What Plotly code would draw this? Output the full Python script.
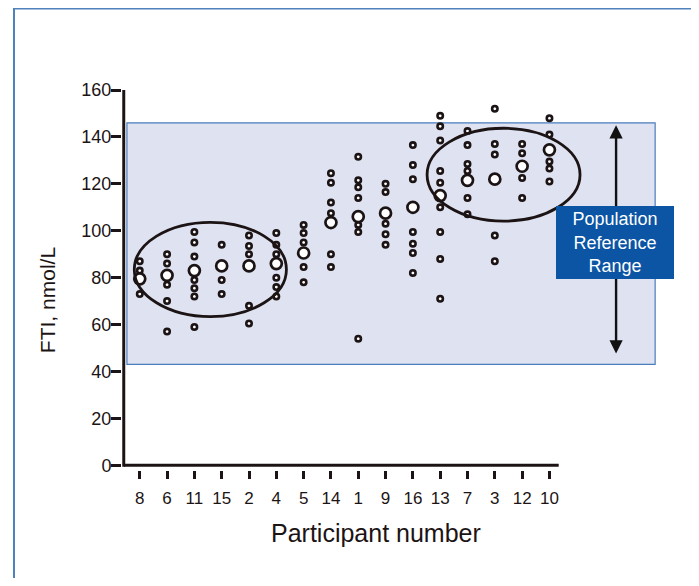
import plotly.graph_objects as go

# ---- data ----
participants = ["8", "6", "11", "15", "2", "4", "5", "14", "1", "9", "16", "13", "7", "3", "12", "10"]

individual_values = [
    [87, 83, 79, 73],                                   # 8
    [90, 86, 77, 70, 57],                               # 6
    [99.5, 95, 89, 79, 75.5, 72, 59],                   # 11
    [94, 79, 73],                                       # 15
    [98, 93.5, 90, 68, 60.5],                           # 2
    [99, 94, 90, 80, 76, 72],                           # 4
    [102.5, 99, 95, 84.5, 78],                          # 5
    [124.5, 120.5, 112, 107.5, 90, 84.5],               # 14
    [131.5, 121.5, 118.5, 114, 102.5, 99.5, 54],        # 1
    [120, 116.5, 103, 98.5, 94],                        # 9
    [136.5, 128, 122, 99.5, 94.5, 90.5, 82],            # 16
    [149, 144.5, 138.5, 125.5, 120.5, 110, 99.5, 88, 71],  # 13
    [142.5, 136.5, 128.5, 125.5, 114, 107],             # 7
    [152, 137, 132.5, 98, 87],                          # 3
    [137, 133, 122.5, 114],                             # 12
    [148, 141, 129.5, 126.5, 121],                      # 10
]

mean_values = [79.5, 81, 83, 85, 85, 86, 90.5, 103.5, 106, 107.5, 110, 115, 121.5, 122, 127.5, 134.5]

y_ticks = [0, 20, 40, 60, 80, 100, 120, 140, 160]
reference_range = [43, 146]          # population reference range (nmol/L)
cluster_low = {"x": [-0.2, 5.37], "y": [63.4, 103.6]}
cluster_high = {"x": [10.52, 16.12], "y": [104.1, 143.7]}

# ---- build ----
ink = "#1c1414"
font_family = "Liberation Sans, Arial, Helvetica, sans-serif"
positions = list(range(len(participants)))

ind_x, ind_y = [], []
for pos, vals in zip(positions, individual_values):
    for v in vals:
        ind_x.append(pos)
        ind_y.append(v)

fig = go.Figure()

fig.add_trace(go.Scatter(
    x=ind_x, y=ind_y, mode="markers",
    marker=dict(symbol="circle", size=5.4, color="white", line=dict(color=ink, width=2.6)),
    cliponaxis=False, showlegend=False, hoverinfo="y",
))
fig.add_trace(go.Scatter(
    x=positions, y=mean_values, mode="markers",
    marker=dict(symbol="circle", size=11, color="white", line=dict(color=ink, width=2.7)),
    cliponaxis=False, showlegend=False, hoverinfo="y",
))

shapes = [
    # reference range band
    dict(type="rect", xref="x", yref="y", x0=-0.47, x1=18.87,
         y0=reference_range[0], y1=reference_range[1],
         fillcolor="#dfe2f1", line=dict(color="#4a7dbd", width=1.2), layer="below"),
    # axis lines
    dict(type="line", xref="x", yref="y", x0=-0.586, x1=15.34, y0=0, y1=0,
         line=dict(color=ink, width=3), layer="above"),
    dict(type="line", xref="x", yref="y", x0=-0.586, x1=-0.586, y0=-0.6, y1=161,
         line=dict(color=ink, width=3), layer="above"),
    # cluster ellipses
    dict(type="circle", xref="x", yref="y",
         x0=cluster_low["x"][0], x1=cluster_low["x"][1],
         y0=cluster_low["y"][0], y1=cluster_low["y"][1],
         line=dict(color=ink, width=2.8), layer="above"),
    dict(type="circle", xref="x", yref="y",
         x0=cluster_high["x"][0], x1=cluster_high["x"][1],
         y0=cluster_high["y"][0], y1=cluster_high["y"][1],
         line=dict(color=ink, width=2.8), layer="above"),
    # outer frame (left, right, top edges)
    dict(type="line", xref="paper", yref="paper", x0=-0.1915, x1=-0.1915, y0=-0.36, y1=1.23,
         line=dict(color="#4f81bd", width=2)),
    dict(type="line", xref="paper", yref="paper", x0=1.0145, x1=1.0145, y0=-0.36, y1=1.23,
         line=dict(color="#4f81bd", width=2)),
    dict(type="line", xref="paper", yref="paper", x0=-0.1915, x1=1.0145, y0=1.2142, y1=1.2142,
         line=dict(color="#4f81bd", width=2)),
]

annotations = [
    dict(x=17.44, y=reference_range[1] - 1, ax=17.44, ay=reference_range[0] + 4,
         xref="x", yref="y", axref="x", ayref="y", text="", showarrow=True,
         arrowside="end+start", arrowhead=2, startarrowhead=2,
         arrowsize=1.1, startarrowsize=1.1, arrowwidth=2.4, arrowcolor="#111111", standoff=0,
         startstandoff=0),
    dict(x=17.4, y=95.2, xref="x", yref="y", text="Population<br>Reference<br>Range",
         showarrow=False, bgcolor="#0b55a4", bordercolor="#0b55a4", borderpad=2,
         width=112, height=67, align="center",
         font=dict(family=font_family, size=18, color="white")),
    dict(x=-0.133, y=0.447, xref="paper", yref="paper", text="FTI, nmol/L", textangle=-90,
         xanchor="center", yanchor="middle",
         showarrow=False, font=dict(family=font_family, size=21, color=ink)),
    dict(x=0.45, y=-0.165, xref="paper", yref="paper", text="Participant number",
         xanchor="center", yanchor="middle",
         showarrow=False, font=dict(family=font_family, size=25, color=ink)),
]

fig.update_layout(
    width=691, height=570,
    margin=dict(l=114, r=13, t=82, b=108),
    paper_bgcolor="white", plot_bgcolor="white",
    font=dict(family=font_family, color=ink),
    shapes=shapes, annotations=annotations,
    xaxis=dict(range=[-0.65, 20], tickmode="array", tickvals=positions, ticktext=participants,
               ticks="outside", ticklen=8, tickwidth=3, tickcolor=ink,
               ticklabelstandoff=5,
               showline=False, showgrid=False, zeroline=False,
               tickfont=dict(size=17, color=ink, family=font_family)),
    yaxis=dict(range=[-2, 160], tickmode="array", tickvals=y_ticks,
               ticks="outside", ticklen=10, tickwidth=3, tickcolor=ink,
               ticklabelstandoff=-4,
               showline=False, showgrid=False, zeroline=False,
               tickfont=dict(size=18, color=ink, family=font_family)),
)

fig.write_html("out.html")
